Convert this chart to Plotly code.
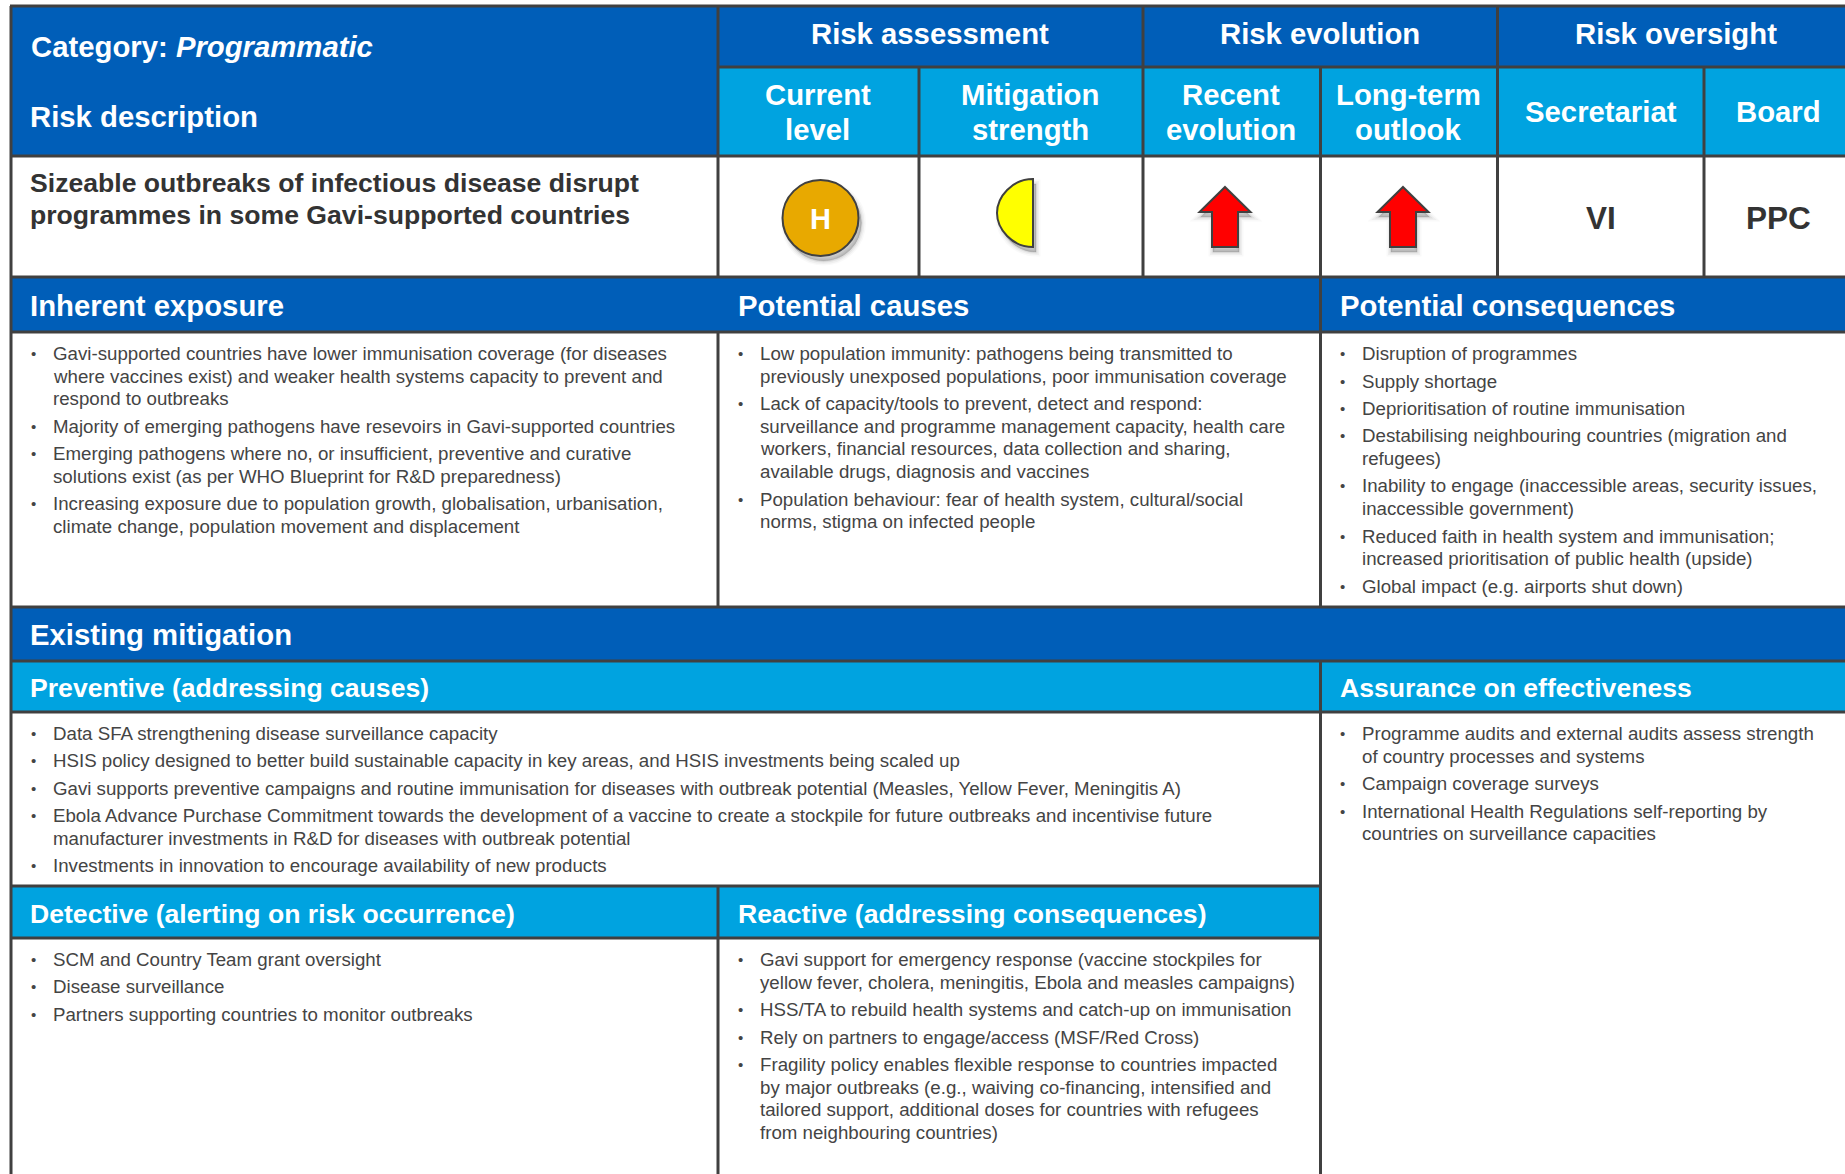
import plotly.graph_objects as go

W, H = 1845, 1174
DARK = "#404040"
BLUE = "#005EB8"
CYAN = "#00A3E0"
TXT = "#444444"
FONT = "Liberation Sans"

# ---------- content ----------
category_label = "Category: "
category_value = "Programmatic"
risk_description = "Risk description"
risk_title = ["Sizeable outbreaks of infectious disease disrupt",
              "programmes in some Gavi-supported countries"]
group_headers = ["Risk assessment", "Risk evolution", "Risk oversight"]
sub_headers = [["Current", "level"], ["Mitigation", "strength"], ["Recent", "evolution"],
               ["Long-term", "outlook"], ["Secretariat"], ["Board"]]
rating_level = "H"
oversight_values = ["VI", "PPC"]

inherent = [
    ["Gavi-supported countries have lower immunisation coverage (for diseases",
     "where vaccines exist) and weaker health systems capacity to prevent and",
     "respond to outbreaks"],
    ["Majority of emerging pathogens have resevoirs in Gavi-supported countries"],
    ["Emerging pathogens where no, or insufficient, preventive and curative",
     "solutions exist (as per WHO Blueprint for R&D preparedness)"],
    ["Increasing exposure due to population growth, globalisation, urbanisation,",
     "climate change, population movement and displacement"],
]
causes = [
    ["Low population immunity: pathogens being transmitted to",
     "previously unexposed populations, poor immunisation coverage"],
    ["Lack of capacity/tools to prevent, detect and respond:",
     "surveillance and programme management capacity, health care",
     "workers, financial resources, data collection and sharing,",
     "available drugs, diagnosis and vaccines"],
    ["Population behaviour: fear of health system, cultural/social",
     "norms, stigma on infected people"],
]
consequences = [
    ["Disruption of programmes"],
    ["Supply shortage"],
    ["Deprioritisation of routine immunisation"],
    ["Destabilising neighbouring countries (migration and", "refugees)"],
    ["Inability to engage (inaccessible areas, security issues,", "inaccessible government)"],
    ["Reduced faith in health system and immunisation;", "increased prioritisation of public health (upside)"],
    ["Global impact (e.g. airports shut down)"],
]
preventive = [
    ["Data SFA strengthening disease surveillance capacity"],
    ["HSIS policy designed to better build sustainable capacity in key areas, and HSIS investments being scaled up"],
    ["Gavi supports preventive campaigns and routine immunisation for diseases with outbreak potential (Measles, Yellow Fever, Meningitis A)"],
    ["Ebola Advance Purchase Commitment towards the development of a vaccine to create a stockpile for future outbreaks and incentivise future",
     "manufacturer investments in R&D for diseases with outbreak potential"],
    ["Investments in innovation to encourage availability of new products"],
]
assurance = [
    ["Programme audits and external audits assess strength", "of country processes and systems"],
    ["Campaign coverage surveys"],
    ["International Health Regulations self-reporting by", "countries on surveillance capacities"],
]
detective = [
    ["SCM and Country Team grant oversight"],
    ["Disease surveillance"],
    ["Partners supporting countries to monitor outbreaks"],
]
reactive = [
    ["Gavi support for emergency response (vaccine stockpiles for",
     "yellow fever, cholera, meningitis, Ebola and measles campaigns)"],
    ["HSS/TA to rebuild health systems and catch-up on immunisation"],
    ["Rely on partners to engage/access (MSF/Red Cross)"],
    ["Fragility policy enables flexible response to countries impacted",
     "by major outbreaks (e.g., waiving co-financing, intensified and",
     "tailored support, additional doses for countries with refugees",
     "from neighbouring countries)"],
]

# ---------- layout geometry ----------
X0, X1, X2, X3, X4, X5, X6 = 11, 718, 919, 1143, 1320.5, 1497.5, 1704
Y = dict(top=6, sub=67, hdr=156, row=277, sec=332, body=607, mit=661, prev=712, det=886, detb=938)
LW = 3
BODY = 18.7

shapes = []
ann = []


def rect(x0, y0, x1, y1, color):
    shapes.append(dict(type="rect", x0=x0, y0=y0, x1=x1, y1=y1, fillcolor=color,
                       line=dict(width=0), layer="below"))


def line(x0, y0, x1, y1, color=DARK, width=LW):
    shapes.append(dict(type="line", x0=x0, y0=y0, x1=x1, y1=y1, line=dict(color=color, width=width), layer="below"))


def text(x, y, s, size, color="white", anchor="left", bold=False):
    ann.append(dict(x=x, y=y, text=f"<b>{s}</b>" if bold else s, showarrow=False,
                    xanchor=anchor, yanchor="middle", xref="x", yref="y",
                    align=anchor, font=dict(family=FONT, size=size, color=color),
                    borderpad=0, borderwidth=0))


def bullets(x_b, x_t, y, paras, size=BODY):
    for p in paras:
        for i, ln in enumerate(p):
            if i == 0:
                text(x_b, y, "•", 15, TXT, "left")
            text(x_t, y, ln, size, TXT, "left")
            y += 22.7
        y += 27.4 - 22.7


# fills
rect(X0, Y["top"], W, Y["hdr"], BLUE)
rect(X1, Y["sub"], W, Y["hdr"], CYAN)
rect(X0, Y["row"], W, Y["sec"], BLUE)
rect(X0, Y["body"], W, Y["mit"], BLUE)
rect(X0, Y["mit"], W, Y["prev"], CYAN)
rect(X0, Y["det"], X4, Y["detb"], CYAN)

# rules
for k in ["top", "hdr", "row", "sec", "body", "mit", "prev"]:
    line(X0 - 1, Y[k], W, Y[k])
line(X1, Y["sub"], W, Y["sub"])
line(X0, Y["det"], X4, Y["det"])
line(X0, Y["detb"], X4, Y["detb"])
line(X0, Y["top"], X0, H)
line(X1, Y["top"], X1, Y["row"])
line(X1, Y["sec"], X1, Y["body"])
line(X1, Y["det"], X1, H)
line(X2, Y["sub"], X2, Y["row"])
line(X3, Y["top"], X3, Y["row"])
line(X4, Y["sub"], X4, Y["body"])
line(X4, Y["mit"], X4, H)
line(X5, Y["top"], X5, Y["row"])
line(X6, Y["sub"], X6, Y["row"])

# header text
H1 = 29.3
ann.append(dict(x=28.5, y=46.5, text=f"<b>{category_label}<i>{category_value}</i></b>", showarrow=False,
                xanchor="left", yanchor="middle", font=dict(family=FONT, size=29.3, color="white")))
text(30, 116, risk_description, H1, bold=True)
for s, cx in zip(group_headers, [(X1 + X3) / 2 - 1, (X3 + X5) / 2, 1676]):
    text(cx, 33, s, H1, anchor="center", bold=True)
sub_cx = [(X1 + X2) / 2 - 1, (X2 + X3) / 2 - 1, (X3 + X4) / 2 - 1, (X4 + X5) / 2 - 1, (X5 + X6) / 2, 1778]
for lines_, cx in zip(sub_headers, sub_cx):
    if len(lines_) == 2:
        text(cx, 94, lines_[0], H1, anchor="center", bold=True)
        text(cx, 129, lines_[1], H1, anchor="center", bold=True)
    else:
        text(cx, 111, lines_[0], H1, anchor="center", bold=True)

# risk row
text(30, 183, risk_title[0], 26.6, "#333333", bold=True)
text(30, 215, risk_title[1], 26.6, "#333333", bold=True)
for s, cx in zip(oversight_values, [sub_cx[4], sub_cx[5]]):
    text(cx, 218, s, 31.5, "#333333", "center", bold=True)


def shadow_shape(kind, **kw):
    for w, op in [(9, 0.025), (6, 0.04), (3, 0.06), (1, 0.08)]:
        d = dict(kw)
        d.update(type=kind, fillcolor="rgba(0,0,0,%s)" % op, line=dict(color="rgba(0,0,0,%s)" % op, width=w))
        shapes.append(d)


# gauge: high level circle
CX, CY, RX = 820.5, 218, 38
shadow_shape("circle", x0=CX - RX + 3, x1=CX + RX + 3, y0=CY - RX + 5, y1=CY + RX + 5)
shapes.append(dict(type="circle", x0=CX - RX, x1=CX + RX, y0=CY - RX, y1=CY + RX,
                   fillcolor="#E8A900", line=dict(color="#404040", width=2)))
text(CX, CY + 1, rating_level, 29, "white", "center", bold=True)

# half moon
def moon(dx=0, dy=0):
    return (f"M {1033+dx} {179+dy} C {1012+dx} {179+dy} {997+dx} {197+dy} {997+dx} {213+dy} "
            f"C {997+dx} {229+dy} {1012+dx} {247+dy} {1033+dx} {247+dy} Z")


shadow_shape("path", path=moon(3, 5))
shapes.append(dict(type="path", path=moon(), fillcolor="#FFFF00", line=dict(color="#404040", width=2)))


# arrows
def arrow(cx, dx=0, dy=0):
    cx += dx
    return (f"M {cx} {187+dy} L {cx+25.5} {212+dy} L {cx+13} {212+dy} L {cx+13} {247+dy} "
            f"L {cx-13} {247+dy} L {cx-13} {212+dy} L {cx-25.5} {212+dy} Z")


for cx in [1225, 1403]:
    shadow_shape("path", path=arrow(cx, 1, 5))
    shapes.append(dict(type="path", path=arrow(cx), fillcolor="#FF0000", line=dict(color="#404040", width=2)))

# section headers
S1 = 29.3
text(30, 305, "Inherent exposure", S1, bold=True)
text(737.5, 305, "Potential causes", S1, bold=True)
text(1339.5, 305, "Potential consequences", S1, bold=True)
text(30, 634, "Existing mitigation", S1, bold=True)
S2 = 26.6
text(30, 688, "Preventive (addressing causes)", S2, bold=True)
text(1339.5, 688, "Assurance on effectiveness", S2, bold=True)
text(30, 914, "Detective (alerting on risk occurrence)", S2, bold=True)
text(737.5, 914, "Reactive (addressing consequences)", S2, bold=True)

# bullet bodies
bullets(31, 52.5, 353.4, inherent)
bullets(738, 760, 353.4, causes)
bullets(1340, 1362, 353.6, consequences)
bullets(31, 52.5, 733.5, preventive)
bullets(1340, 1362, 733.5, assurance)
bullets(31, 52.5, 959.5, detective)
bullets(738, 760, 959.5, reactive)

fig = go.Figure()
fig.update_layout(
    width=W, height=H, margin=dict(l=0, r=0, t=0, b=0), autosize=False,
    paper_bgcolor="white", plot_bgcolor="white", showlegend=False,
    xaxis=dict(range=[0, W], visible=False, fixedrange=True),
    yaxis=dict(range=[H, 0], visible=False, fixedrange=True),
    shapes=shapes, annotations=ann,
)
fig.write_html("out.html", config={"displayModeBar": False},
               post_script="document.body.style.margin='0';document.body.style.overflow='hidden';")
